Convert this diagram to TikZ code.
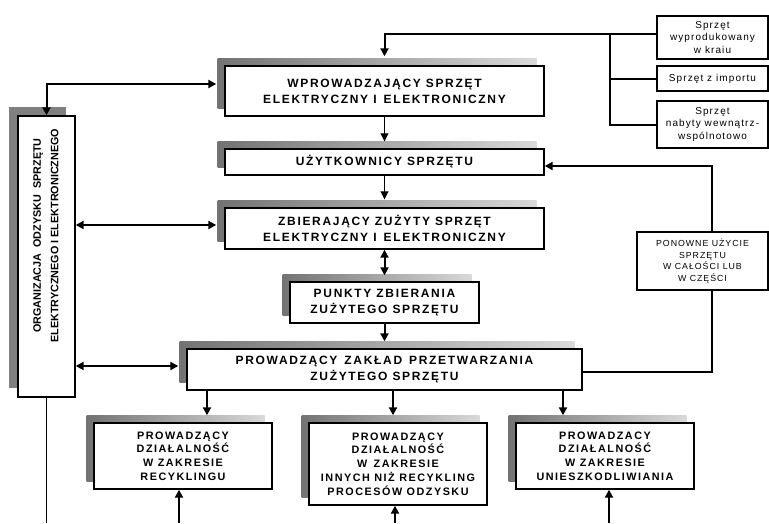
\documentclass[tikz,border=0pt]{standalone}
\usepackage{fontspec}
\setmainfont{Liberation Sans}
\newfontfamily\lsbig[LetterSpace=14]{Liberation Sans}
\newfontfamily\lsreg[LetterSpace=11]{Liberation Sans}
\newfontfamily\lsorg{Liberation Sans}
\usetikzlibrary{arrows.meta,shadows}
\begin{document}
\begin{tikzpicture}[x=1pt,y=-1pt,
  shbox/.style={draw, line width=1.4pt, fill=white, inner sep=0pt, align=center,
     general shadow={shadow xshift=-7.5pt, shadow yshift=7.5pt, left color=black!55, right color=black!15}},
  orgbox/.style={draw, line width=1.4pt, fill=white, inner sep=0pt,
     general shadow={shadow xshift=-9pt, shadow yshift=9pt, fill=black!50}},
  plainbox/.style={draw, line width=1.3pt, fill=white, inner sep=0pt, align=center},
  bigtxt/.style={font=\lsbig\bfseries\fontsize{12}{16}\selectfont},
  bottxt/.style={font=\lsbig\bfseries\fontsize{10.8}{13.8}\selectfont},
  orgtxt/.style={font=\lsorg\bfseries\fontsize{10.8}{17.5}\selectfont, align=center},
  smalltxt/.style={font=\lsreg\fontsize{10}{12.5}\selectfont},
  pontxt/.style={font=\lsreg\fontsize{8.8}{11.5}\selectfont},
  tipA/.style={-{Triangle[length=8pt,width=8pt]}},
  thk/.style={line width=2pt, tipA},
  thn/.style={line width=0.9pt, tipA},
  dbl/.style={line width=2pt, {Triangle[length=8pt,width=8pt]}-{Triangle[length=8pt,width=8pt]}},
  plainline/.style={line width=2pt}
]
\useasboundingbox (0,0) rectangle (769,523);

% main column
\node[shbox, bigtxt, minimum width=319pt, minimum height=50pt] (wpr) at (384.5,91)
  {WPROWADZAJĄCY SPRZĘT\\ELEKTRYCZNY I\, ELEKTRONICZNY};
\node[shbox, bigtxt, minimum width=319pt, minimum height=26pt] (uzy) at (384.5,162)
  {UŻYTKOWNICY SPRZĘTU};
\node[shbox, bigtxt, minimum width=319pt, minimum height=41pt] (zbi) at (384.5,228.5)
  {ZBIERAJĄCY ZUŻYTY SPRZĘT\\ELEKTRYCZNY I\, ELEKTRONICZNY};
\node[shbox, bigtxt, minimum width=189pt, minimum height=41pt] (pkt) at (384.5,302.5)
  {PUNKTY ZBIERANIA\\ZUŻYTEGO SPRZĘTU};
\node[shbox, bigtxt, minimum width=395pt, minimum height=41pt] (zak) at (384.5,369.5)
  {PROWADZĄCY\, ZAKŁAD\, PRZETWARZANIA\\ZUŻYTEGO SPRZĘTU};

% bottom row
\node[shbox, bottxt, minimum width=178pt, minimum height=66pt] (rec) at (183,456)
  {PROWADZĄCY\\DZIAŁALNOŚĆ\\W ZAKRESIE\\RECYKLINGU};
\node[shbox, bottxt, minimum width=178pt, minimum height=82pt] (inn) at (398,464)
  {PROWADZĄCY\\DZIAŁALNOŚĆ\\W\, ZAKRESIE\\INNYCH NIŻ RECYKLING\\PROCESÓW ODZYSKU};
\node[shbox, bottxt, minimum width=178pt, minimum height=66pt] (uni) at (605,456)
  {PROWADZACY\\DZIAŁALNOŚĆ\\W ZAKRESIE\\UNIESZKODLIWIANIA};

% organisation box
\node[orgbox, minimum width=57pt, minimum height=281pt] (org) at (46.5,256.5) {};
\node[orgtxt, rotate=90] (orgt) at ([xshift=-0.5pt,yshift=21pt]org.center)
  {ORGANIZACJA\ \ ODZYSKU\ \ SPRZĘTU\\ELEKTRYCZNEGO I ELEKTRONICZNEGO};

% right boxes
\node[plainbox, smalltxt, minimum width=111pt, minimum height=43pt] (s1) at (712.5,37.5)
  {Sprzęt\\wyprodukowany\\w kraiu};
\node[plainbox, smalltxt, minimum width=111pt, minimum height=25pt] (s2) at (712.5,78.5)
  {Sprzęt z importu};
\node[plainbox, smalltxt, minimum width=111pt, minimum height=47pt] (s3) at (712.5,124.5)
  {Sprzęt\\nabyty wewnątrz-\\wspólnotowo};
\node[plainbox, pontxt, minimum width=131pt, minimum height=58pt] (pon) at (702.5,261)
  {PONOWNE UŻYCIE\\SPRZĘTU\\W CAŁOŚCI LUB\\W CZĘŚCI};

% source connectors
\coordinate (jn) at (610,34);
\draw[thk] ([yshift=3.5pt]s1.west) -| ([yshift=9pt]wpr.north);
\draw[plainline] (s2.west) -| (jn);
\draw[plainline] (s3.west) -| (jn);

% main column arrows
\draw[thn] (wpr.south) -- ([yshift=7pt]uzy.north);
\draw[thn] (uzy.south) -- ([yshift=8pt]zbi.north);
\draw[dbl] (zbi.south) -- ([yshift=6pt]pkt.north);
\draw[thk] (pkt.south) -- ([yshift=7pt]zak.north);

% organisation links
\draw[dbl] ([xshift=-8pt,yshift=7pt]wpr.west) -| (org.north);
\coordinate (zl) at ([xshift=-8pt,yshift=3.5pt]zbi.west);
\draw[dbl] (zl) -- (zl -| org.east);
\coordinate (kl) at ([xshift=-8pt,yshift=3.5pt]zak.west);
\draw[dbl] (kl) -- (kl -| org.east);
\coordinate (b0) at (46.5,523);
\draw[line width=0.9pt] (org.south) -- (b0);

% from processing plant down
\coordinate (r1) at ([xshift=24pt,yshift=7pt]rec.north);
\coordinate (r2) at ([xshift=-5pt,yshift=7pt]inn.north);
\coordinate (r3) at ([xshift=-42pt,yshift=7pt]uni.north);
\draw[thk] (r1 |- zak.south) -- (r1);
\draw[thk] (r2 |- zak.south) -- (r2);
\draw[thk] (r3 |- zak.south) -- (r3);

% from below into bottom boxes
\coordinate (b1) at (179,523);
\coordinate (b2) at (395,523);
\coordinate (b3) at (609,523);
\draw[thk] (b1) -- (b1 |- rec.south);
\draw[thk] (b2) -- (b2 |- inn.south);
\draw[thk] (b3) -- (b3 |- uni.south);

% reuse loop
\coordinate (p1) at ([xshift=9.5pt]pon.north);
\coordinate (p2) at ([xshift=9.5pt]pon.south);
\draw[thk] (p1) |- ([yshift=-4pt]uzy.east);
\draw[plainline] (p2) |- ([yshift=-2.5pt]zak.east);
\end{tikzpicture}
\end{document}
